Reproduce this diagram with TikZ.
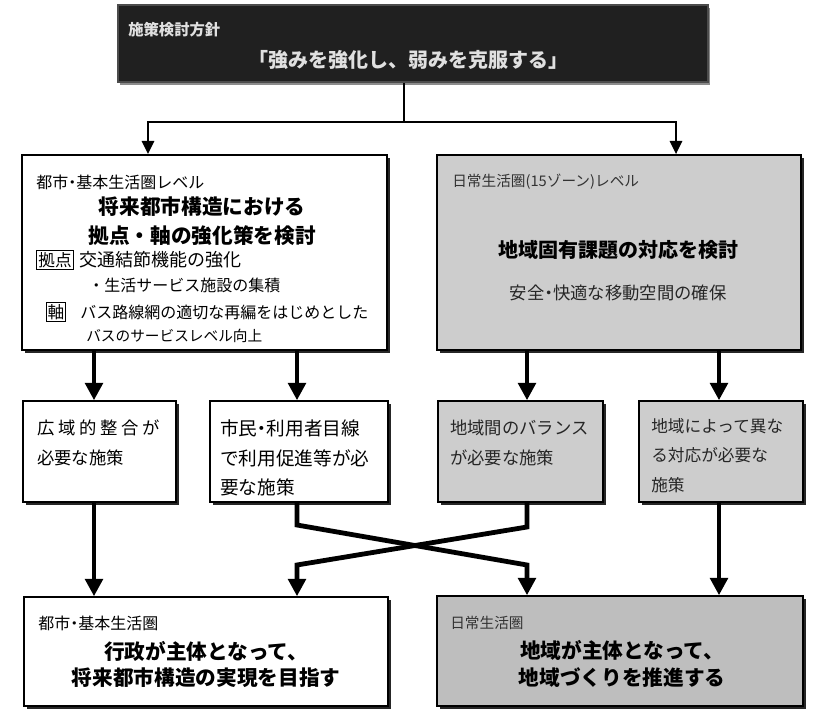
\documentclass[tikz,border=0pt]{standalone}
\usepackage{fontspec}
\setmainfont{Noto Sans CJK JP}
\usetikzlibrary{arrows.meta,fit,shadows}
\definecolor{boxgray}{RGB}{205,205,205}
\definecolor{boxgrayd}{RGB}{190,190,190}
\definecolor{titlebg}{RGB}{32,32,32}
\newcommand{\fs}[1]{\fontsize{#1}{#1}\selectfont}
\newcommand{\nd}{\makebox[0.5em]{・}}
\tikzset{
  boxbase/.style={draw=black, line width=1.1pt, inner sep=0pt,
    drop shadow={shadow xshift=2.6pt, shadow yshift=-2.6pt, fill=black!85, opacity=1}},
  wbox/.style={boxbase, fill=white},
  gbox/.style={boxbase, fill=boxgray},
  gboxd/.style={boxbase, fill=boxgrayd},
  tbox/.style={draw=black!70, line width=1.2pt, fill=titlebg, inner sep=0pt,
    drop shadow={shadow xshift=1.5pt, shadow yshift=-2.5pt, fill=black!45, opacity=1}},
  txt/.style={inner sep=0pt, text=black},
  ttxt/.style={inner sep=0pt, text=white!88!black},
  tag/.style={draw=black, line width=0.8pt, inner sep=1.2pt, text=black},
  conn/.style={line width=2.2pt, line join=miter},
  arrt/.style={conn, -{Triangle[width=9pt,length=10pt]}},
  arr/.style={line width=3.6pt, line join=miter, -{Triangle[width=13pt,length=13pt]}},
}
\begin{document}
\begin{tikzpicture}[x=0.75pt,y=-0.75pt]
\useasboundingbox (0,0) rectangle (813,712);

% title
\node[tbox, fit={(118,5)(708,82)}] (T) {};
\node[ttxt, anchor=west, font=\bfseries\fs{11.5}] (T1) at (128,30) {施策検討方針};
\node[ttxt, font=\bfseries\fs{15}] (T2) at (408,60) {「強みを強化し、弱みを克服する」};

% big boxes
\node[wbox, fit={(22,155)(387,350)}] (L) {};
\node[gbox, fit={(437,155)(801,350)}] (R) {};

\node[txt, anchor=west, font=\fs{12}] (L0) at (36,182) {都市\nd 基本生活圏レベル};
\node[txt, font=\bfseries\fs{15.5}] (L1) at (202,207) {将来都市構造における};
\node[txt, font=\bfseries\fs{15.5}] (L2) at (202,236) {拠点・軸の強化策を検討};
\node[tag, font=\fs{12.5}] (L3t) at (55,260) {拠点};
\node[txt, anchor=west, font=\fs{13.5}] (L3) at (79,260) {交通結節機能の強化};
\node[txt, anchor=west, font=\fs{12}] (L4) at (88,285) {・生活サービス施設の集積};
\node[tag, font=\fs{12.5}] (L5t) at (56,312) {軸};
\node[txt, anchor=west, font=\fs{12}] (L5) at (80,312) {バス路線網の適切な再編をはじめとした};
\node[txt, anchor=west, font=\fs{11}] (L6) at (86,336) {バスのサービスレベル向上};

\node[txt, anchor=west, font=\fs{11}, text=black!80] (R0) at (452,182) {日常生活圏(15ゾーン)レベル};
\node[txt, font=\bfseries\fs{15}] (R1) at (618,250) {地域固有課題の対応を検討};
\node[txt, font=\fs{13}, text=black!85] (R2) at (618,293) {安全\nd 快適な移動空間の確保};

% middle boxes
\node[wbox, fit={(23,401)(176,502)}] (M1) {};
\node[wbox, fit={(210,401)(388,502)}] (M2) {};
\node[gbox, fit={(438,401)(603,502)}] (M3) {};
\node[gbox, fit={(639,401)(803,502)}] (M4) {};

\node[txt, anchor=west, font=\fs{13}\addfontfeature{LetterSpace=22}] (M1a) at (37,428) {広域的整合が};
\node[txt, anchor=west, font=\fs{13}] (M1b) at (37,458) {必要な施策};
\node[txt, anchor=west, font=\fs{14}] (M2a) at (220,428) {市民\nd 利用者目線};
\node[txt, anchor=west, font=\fs{14}] (M2b) at (220,458) {で利用促進等が必};
\node[txt, anchor=west, font=\fs{14}] (M2c) at (220,487) {要な施策};
\node[txt, anchor=west, font=\fs{13}, text=black!85] (M3a) at (450,428) {地域間のバランス};
\node[txt, anchor=west, font=\fs{13}, text=black!85] (M3b) at (450,458) {が必要な施策};
\node[txt, anchor=west, font=\fs{12.5}, text=black!85] (M4a) at (651,426) {地域によって異な};
\node[txt, anchor=west, font=\fs{12.5}, text=black!85] (M4b) at (651,455) {る対応が必要な};
\node[txt, anchor=west, font=\fs{12.5}, text=black!85] (M4c) at (651,485) {施策};

% bottom boxes
\node[wbox, fit={(24,597)(388,706)}] (B1) {};
\node[gboxd, fit={(437,596)(803,706)}] (B2) {};

\node[txt, anchor=west, font=\fs{12}] (B1a) at (38,623) {都市\nd 基本生活圏};
\node[txt, font=\bfseries\fs{15.5}] (B1b) at (206,651) {行政が主体となって、};
\node[txt, font=\bfseries\fs{15.5}] (B1c) at (206,678) {将来都市構造の実現を目指す};
\node[txt, anchor=west, font=\fs{11}, text=black!80] (B2a) at (450,623) {日常生活圏};
\node[txt, font=\bfseries\fs{15.5}] (B2b) at (622,650) {地域が主体となって、};
\node[txt, font=\bfseries\fs{15.5}] (B2c) at (622,678) {地域づくりを推進する};

% connectors
\coordinate (j) at (404,122);
\coordinate (xa) at (148,0);
\coordinate (xb) at (676,0);
\draw[conn] (T.south -| j) -- (j);
\draw[arrt] (j) -| (L.north -| xa);
\draw[arrt] (j) -| (R.north -| xb);

\coordinate (c1) at (94,0);
\coordinate (c2) at (297,0);
\coordinate (c3) at (527,0);
\coordinate (c4) at (719,0);
\draw[arr] (L.south -| c1) -- (M1.north -| c1);
\draw[arr] (L.south -| c2) -- (M2.north -| c2);
\draw[arr] (R.south -| c3) -- (M3.north -| c3);
\draw[arr] (R.south -| c4) -- (M4.north -| c4);
\draw[arr] (M1.south -| c1) -- (B1.north -| c1);
\draw[arr] (M4.south -| c4) -- (B2.north -| c4);

\coordinate (k1) at (297,525);
\coordinate (k2) at (527,565);
\coordinate (k3) at (527,527);
\coordinate (k4) at (297,565);
\draw[arr] (M2.south -| k1) -- (k1) -- (k2) -- (B2.north -| k2);
\draw[arr] (M3.south -| k3) -- (k3) -- (k4) -- (B1.north -| k4);
\end{tikzpicture}
\end{document}
